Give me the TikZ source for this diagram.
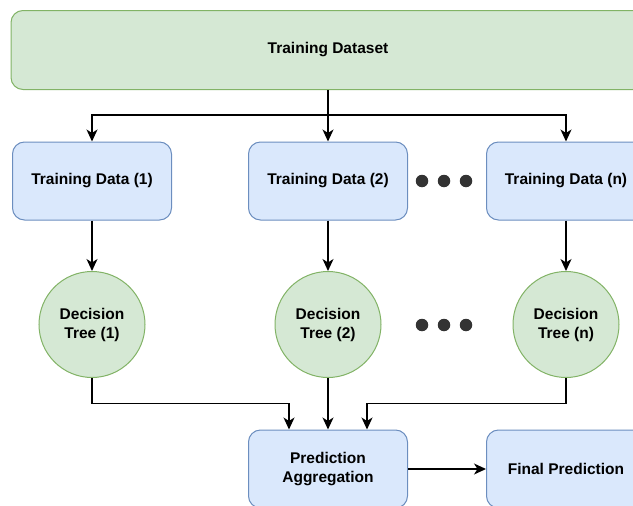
\documentclass[tikz,border=0pt]{standalone}
\usepackage{fontspec}
\setmainfont{Liberation Sans}
\usetikzlibrary{arrows.meta}

\definecolor{greenfill}{HTML}{D5E8D4}
\definecolor{greenline}{HTML}{82B366}
\definecolor{bluefill}{HTML}{DAE8FC}
\definecolor{blueline}{HTML}{6C8EBF}
\definecolor{dotgray}{HTML}{333333}

\begin{document}
\begin{tikzpicture}[x=1pt, y=-1pt,
    font=\fontsize{15.5}{19}\selectfont\bfseries,
    >={Stealth[length=12pt,width=11pt,inset=3.5pt]},
    flow/.style={->, line width=1.4pt},
    databox/.style={draw=blueline, fill=bluefill, rounded corners=12pt, line width=1pt,
      minimum width=159pt, minimum height=78pt, align=center},
    treenode/.style={circle, draw=greenline, fill=greenfill, line width=1pt,
      minimum size=106pt, inner sep=0pt, align=center},
    dotmark/.style={circle, fill=dotgray, minimum size=12.5pt, inner sep=0pt}
  ]
  \useasboundingbox (0,0) rectangle (633,506);
  \clip (0,0) rectangle (633,506);

  % dataset
  \node[draw=greenline, fill=greenfill, rounded corners=12pt, line width=1pt,
    minimum width=634pt, minimum height=79pt] (ds) at (328,50) {Training Dataset};

  % bootstrap samples
  \node[databox] (td1) at (92,181) {Training Data (1)};
  \node[databox] (td2) at (328,181) {Training Data (2)};
  \node[databox] (tdn) at (566,181) {Training Data (n)};

  % trees
  \node[treenode] (dt1) at (92,324.5) {Decision\\Tree (1)};
  \node[treenode] (dt2) at (328,324.5) {Decision\\Tree (2)};
  \node[treenode] (dtn) at (566,324.5) {Decision\\Tree (n)};

  \foreach \x in {422,444,466} {
    \node[dotmark] (dota\x) at (\x,181) {};
    \node[dotmark] (dotb\x) at (\x,325) {};
  }

  % output
  \node[databox] (agg) at (328,469) {Prediction\\Aggregation};
  \node[databox] (fin) at (566,469) {Final Prediction};

  \coordinate (fork) at (328,115);
  \draw[line width=1.4pt] (ds.south) -- (fork);
  \draw[flow] (fork) -| (td1.north);
  \draw[flow] (fork) -- (td2.north);
  \draw[flow] (fork) -| (tdn.north);

  \draw[flow] (td1) -- (dt1);
  \draw[flow] (td2) -- (dt2);
  \draw[flow] (tdn) -- (dtn);

  \coordinate (in1) at ([xshift=-39pt]agg.north);
  \coordinate (in3) at ([xshift=39pt]agg.north);
  \draw[flow] (dt1.south) |- ([yshift=26pt]in1) -- (in1);
  \draw[flow] (dt2) -- (agg);
  \draw[flow] (dtn.south) |- ([yshift=26pt]in3) -- (in3);

  \draw[flow] (agg) -- (fin);
\end{tikzpicture}
\end{document}
